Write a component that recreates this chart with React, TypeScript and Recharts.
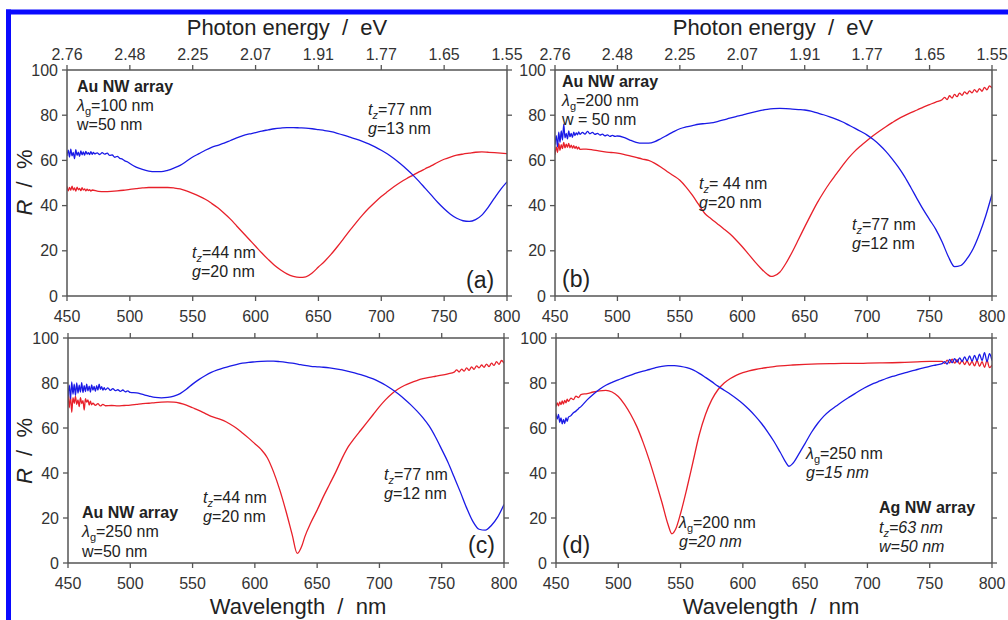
import React from 'react';
import { LineChart, Line, XAxis, YAxis } from 'recharts';

const FONT = '"Liberation Sans", Arial, Helvetica, sans-serif';
const RED = '#e8202a';
const BLUE = '#1a1ae6';
const AXIS = '#555555';

const wlTicks = [450, 500, 550, 600, 650, 700, 750, 800];
const evLabels = ['2.76', '2.48', '2.25', '2.07', '1.91', '1.77', '1.65', '1.55'];
const rTicks = [0, 20, 40, 60, 80, 100];

// Panel (a)
const aBlue: number[][] = [
  [450, 62], [451, 64.5], [452, 61.5], [453, 65], [454, 62], [455, 63.5], [456, 60.8], [457, 64.8], [458, 62.2], [459, 63.6],
  [460, 61.8], [461, 64.2], [462, 62.5], [463, 63.8], [464, 62.3], [465, 64], [466, 62.8], [467, 63.4], [468, 62.6], [469, 63.9],
  [470, 62.7], [471, 63.5], [472, 62.9], [474, 63.3], [476, 62.6], [478, 63.4], [480, 62.8], [482, 63.2], [484, 62.2], [486, 62.4],
  [488, 61.4], [490, 61.8], [492, 60.9], [494, 60.6], [496, 59.8], [498, 59.4], [500, 58.6],
  [505, 57], [510, 56], [515, 55.3], [520, 55], [525, 55], [530, 55.6], [535, 56.6], [540, 57.8], [545, 59.6], [550, 61.5],
  [555, 63], [560, 64.5], [565, 65.8], [570, 66.7], [575, 67.6], [580, 68.8], [585, 70], [590, 71], [595, 71.7], [600, 72.3],
  [605, 73], [610, 73.5], [615, 74], [620, 74.3], [625, 74.5], [630, 74.5], [635, 74.4], [640, 74.3], [645, 74], [650, 73.6],
  [655, 73.2], [660, 72.7], [665, 72], [670, 71.2], [675, 70.3], [680, 69.4], [685, 68.4], [690, 67.3], [695, 66], [700, 64.5],
  [705, 62.8], [710, 60.8], [715, 58.6], [720, 56.2], [725, 53.6], [730, 50.7], [735, 47.6], [740, 44.5], [745, 41.4], [750, 38.6],
  [755, 36.2], [760, 34.4], [765, 33.3], [770, 33], [775, 33.8], [780, 35.8], [785, 39.2], [790, 43.3], [795, 47.2], [800, 50.5],
];
const aRed: number[][] = [
  [450, 48.5], [451, 46.5], [452, 48], [453, 46.8], [454, 48.6], [455, 46.9], [456, 47.8], [457, 46.4], [458, 48.2], [459, 47],
  [460, 47.6], [461, 46.6], [462, 47.9], [463, 46.9], [464, 47.4], [465, 46.5], [466, 47.3], [467, 46.6], [468, 47.1], [469, 46.4],
  [470, 46.9], [475, 46.3], [480, 46.2], [485, 46.3], [490, 46.5], [495, 46.8], [500, 47.2], [505, 47.5], [510, 47.8], [515, 48],
  [520, 48], [525, 48], [530, 48], [535, 47.8], [540, 47.4], [545, 46.5], [550, 45.4], [555, 44.2], [560, 42.8], [565, 41],
  [570, 39], [575, 36.6], [580, 34], [585, 31], [590, 28], [595, 25], [600, 22], [605, 19], [610, 16.2], [615, 13.6],
  [620, 11.5], [625, 9.8], [630, 8.7], [635, 8.2], [640, 8.5], [645, 10.2], [650, 12.8], [655, 15.4], [660, 18.4], [665, 21.8],
  [670, 25.4], [675, 29], [680, 32.5], [685, 35.8], [690, 38.8], [695, 41.5], [700, 44], [705, 46.2], [710, 48.3], [715, 50.2],
  [720, 51.9], [725, 53.4], [730, 54.9], [735, 56.3], [740, 57.7], [745, 59.2], [750, 60.5], [755, 61.5], [760, 62.3], [765, 62.8],
  [770, 63.2], [775, 63.6], [780, 63.8], [785, 63.6], [790, 63.4], [795, 63.2], [800, 63],
];

// Panel (b)
const bBlue: number[][] = [
  [450, 67], [451, 71], [452, 66], [453, 72.5], [454, 68], [455, 73], [456, 69], [457, 76], [458, 70], [459, 72],
  [460, 69.5], [461, 73], [462, 70.5], [463, 72], [464, 70.2], [465, 72.5], [466, 71], [467, 72.2], [468, 71.3], [469, 72.6],
  [470, 71.5], [472, 72.4], [474, 71.6], [476, 72.8], [478, 71.8], [480, 72.4], [482, 71.5], [484, 72], [486, 71.2], [488, 71.6],
  [490, 70.9], [492, 71.3], [494, 70.6], [496, 71.1], [498, 70.6], [500, 70.8],
  [505, 70.2], [510, 69], [515, 68], [520, 67.6], [525, 67.6], [530, 68.3], [535, 69.7], [540, 71.2], [545, 72.7], [550, 74],
  [555, 74.8], [560, 75.4], [565, 76], [570, 76.3], [575, 76.6], [580, 77.2], [585, 77.9], [590, 78.7], [595, 79.4], [600, 80],
  [605, 80.8], [610, 81.5], [615, 82.1], [620, 82.6], [625, 82.9], [630, 83], [635, 82.9], [640, 82.7], [645, 82.5], [650, 82.3],
  [655, 81.8], [660, 81], [665, 80.2], [670, 79.3], [675, 78.3], [680, 77.1], [685, 75.7], [690, 74.3], [695, 72.8], [700, 71.2],
  [705, 69.2], [710, 66.8], [715, 64], [720, 60.7], [725, 57], [730, 52.8], [735, 48], [740, 43], [745, 38.2], [750, 33.8],
  [755, 29.5], [760, 24], [765, 17.5], [770, 13], [775, 13.5], [780, 16.5], [785, 21], [790, 27.5], [795, 35.5], [800, 45],
];
const bRed: number[][] = [
  [450, 62.5], [451, 66], [452, 63.5], [453, 67.5], [454, 64.5], [455, 67], [456, 65.2], [457, 68], [458, 65.5], [459, 67.2],
  [460, 65.8], [461, 67.5], [462, 65.6], [463, 66.8], [464, 65.4], [465, 66.5], [466, 65.3], [467, 66.2], [468, 65], [469, 65.9],
  [470, 64.9], [475, 65], [480, 64.7], [485, 64.2], [490, 63.8], [495, 63.5], [500, 63.2], [505, 62.7], [510, 62], [515, 61.3],
  [520, 60.6], [525, 60], [530, 58.7], [535, 57], [540, 55], [545, 53.2], [550, 51.2], [555, 48.2], [560, 44.6], [565, 40.5],
  [570, 36.5], [575, 34.2], [580, 32], [585, 29.8], [590, 27.5], [595, 24.8], [600, 21.8], [605, 18.5], [610, 15.2], [615, 12.2],
  [620, 9.6], [623, 8.7], [625, 8.8], [630, 10.5], [635, 14.5], [640, 19.5], [645, 25], [650, 30.6], [655, 36], [660, 41.2],
  [665, 45.8], [670, 50], [675, 53.8], [680, 57.5], [685, 61], [690, 64], [695, 66.5], [700, 68.8], [705, 71], [710, 73],
  [715, 74.9], [720, 76.7], [725, 78.4], [730, 79.8], [735, 81.1], [740, 82.3], [745, 83.6], [750, 84.7], [755, 85.8],
  [760, 86.8], [762, 87.9], [764, 86.9], [766, 88.6], [768, 87.6], [770, 89.2], [772, 88.2], [774, 89.8], [776, 88.8], [778, 90.3],
  [780, 89.4], [782, 90.8], [784, 89.9], [786, 91.3], [788, 90.2], [790, 91.8], [792, 90.6], [794, 92.3], [796, 91.2], [798, 93], [800, 92],
];

// Panel (c)
const cBlue: number[][] = [
  [450, 74], [451, 79], [452, 73], [453, 80.5], [454, 75], [455, 79.5], [456, 74.5], [457, 80], [458, 75.5], [459, 79],
  [460, 76], [461, 80.2], [462, 75.8], [463, 78.8], [464, 76.2], [465, 79.5], [466, 76.5], [467, 78.6], [468, 76], [469, 79.2],
  [470, 76.8], [471, 78.5], [472, 76.3], [473, 78.8], [474, 76.9], [475, 79.5], [476, 77.2], [477, 78.4], [478, 76.8], [479, 77.9],
  [480, 77], [482, 77.8], [484, 76.7], [486, 77.5], [488, 76.6], [490, 77], [492, 76.3], [494, 76.9], [496, 76.1], [498, 76.5], [500, 75.8],
  [505, 75.6], [510, 74.9], [515, 74.2], [520, 73.6], [525, 73.4], [530, 73.6], [535, 74.2], [540, 75.3], [545, 77.2], [550, 79.5],
  [555, 81.5], [560, 83.2], [565, 84.7], [570, 85.8], [575, 86.7], [580, 87.5], [585, 88.2], [590, 88.8], [595, 89.2], [600, 89.4],
  [605, 89.6], [610, 89.7], [615, 89.7], [620, 89.5], [625, 89.2], [630, 88.8], [635, 88.3], [640, 87.8], [645, 87.4], [650, 87.2],
  [655, 87], [660, 86.7], [665, 86.3], [670, 85.8], [675, 85.2], [680, 84.5], [685, 83.7], [690, 82.8], [695, 81.8], [700, 80.5],
  [705, 79], [710, 77.2], [715, 75.2], [720, 72.9], [725, 70.4], [730, 67.6], [735, 64.5], [740, 60.8], [745, 56], [750, 50.5],
  [755, 44.8], [760, 38.2], [765, 31.5], [770, 24.5], [775, 18.5], [780, 15], [785, 14.6], [790, 16.8], [795, 20.5], [800, 26],
];
const cRed: number[][] = [
  [450, 76], [451, 69], [452, 74.5], [453, 67], [454, 73.5], [455, 71], [456, 74], [457, 70.5], [458, 72.5], [459, 69.5],
  [460, 73.5], [461, 70.8], [462, 72.2], [463, 68], [464, 73], [465, 71.5], [466, 72.5], [467, 70.2], [468, 71.9], [469, 70.3],
  [470, 71], [472, 70.1], [474, 70.8], [476, 69.8], [478, 70.5], [480, 69.9],
  [485, 70], [490, 69.8], [495, 70], [500, 70.2], [505, 70.5], [510, 70.8], [515, 71], [520, 71.3], [525, 71.5], [530, 71.6],
  [535, 71.5], [540, 71], [545, 70.2], [550, 69], [555, 67.8], [560, 66.5], [565, 65.2], [570, 64.3], [575, 63.3], [580, 61.8],
  [585, 60], [590, 57.8], [595, 55.5], [600, 53], [605, 50.5], [610, 46.8], [615, 40.5], [620, 32.5], [625, 23], [630, 12.5],
  [634, 4.3], [638, 8], [640, 11.5], [645, 18], [650, 23.5], [655, 29.5], [660, 35], [665, 40.5], [670, 46.5], [675, 51.7],
  [680, 55.5], [685, 59], [690, 62.5], [695, 66], [700, 69.5], [705, 72.6], [710, 75.2], [715, 77.3], [720, 78.9], [725, 80.1],
  [730, 81.1], [735, 81.9], [740, 82.5], [745, 83], [750, 83.5], [755, 84.1],
  [760, 84.8], [762, 85.8], [764, 84.9], [766, 86.2], [768, 85.3], [770, 86.7], [772, 85.6], [774, 87.2], [776, 86.1], [778, 87.6],
  [780, 86.7], [782, 88], [784, 87], [786, 88.4], [788, 87.3], [790, 88.8], [792, 87.8], [794, 89.5], [796, 88.3], [798, 90], [800, 88.8],
];

// Panel (d)
const dBlue: number[][] = [
  [450, 66.5], [451, 64], [452, 66], [453, 62.5], [454, 64.5], [455, 61.8], [456, 63.8], [457, 62], [458, 64.5], [459, 63],
  [460, 64.8], [462, 65.5], [464, 66.8], [466, 67.5], [468, 68.6], [470, 69.5],
  [475, 72.5], [480, 75], [485, 77.2], [490, 79], [495, 80.3], [500, 81.4], [505, 82.5], [510, 83.5], [515, 84.5], [520, 85.3],
  [525, 86], [530, 86.8], [535, 87.4], [540, 87.7], [545, 87.7], [550, 87.4], [555, 86.8], [560, 85.8], [565, 84.3], [570, 82.5],
  [575, 80.6], [580, 78.6], [585, 76.8], [590, 75], [595, 73], [600, 70.8], [605, 68.2], [610, 65.3], [615, 62], [620, 58.2],
  [625, 54], [630, 49.2], [635, 44.3], [637, 43], [640, 44.2], [645, 48.5], [650, 53.2], [655, 58], [660, 62], [665, 65.3],
  [670, 67.8], [675, 69.8], [680, 71.8], [685, 73.6], [690, 75.3], [695, 77], [700, 78.5], [705, 79.8], [710, 80.9], [715, 82],
  [720, 82.9], [725, 83.7], [730, 84.5], [735, 85.3], [740, 86], [745, 86.7], [750, 87.4], [755, 88],
  [760, 88.6], [762, 89.5], [764, 88.4], [766, 90.5], [768, 89], [770, 90.8], [772, 89.3], [774, 91.2], [776, 89.6], [778, 91.6],
  [780, 89.8], [782, 92], [784, 89.7], [786, 92.3], [788, 89.9], [790, 92.8], [792, 90], [794, 93.5], [796, 89.5], [798, 93], [800, 90],
];
const dRed: number[][] = [
  [450, 69.5], [451, 71.2], [452, 69.8], [453, 71.6], [454, 70.4], [455, 72], [456, 70.6], [457, 72.3], [458, 71.2], [459, 72.8],
  [460, 71.8], [462, 73.3], [464, 72.6], [466, 74.2], [468, 73.5], [470, 74.8],
  [475, 75.3], [480, 76], [485, 76.5], [490, 76.7], [495, 76], [500, 74], [505, 70.5], [510, 66], [515, 60.5], [520, 53.5],
  [525, 45.5], [530, 36.5], [535, 27], [540, 17], [543, 13], [546, 15], [550, 22], [555, 33], [560, 45], [565, 57],
  [570, 66], [575, 72.5], [580, 77], [585, 80], [590, 82], [595, 83.5], [600, 84.6], [605, 85.4], [610, 86], [615, 86.5],
  [620, 86.9], [625, 87.3], [630, 87.6], [640, 88], [650, 88.3], [660, 88.5], [670, 88.6], [680, 88.7], [690, 88.7], [700, 88.8],
  [710, 88.9], [720, 89], [730, 89.2], [740, 89.4], [750, 89.6],
  [760, 89.6], [762, 88.7], [764, 90.2], [766, 88.9], [768, 90.6], [770, 88.8], [772, 90.4], [774, 88.4], [776, 90], [778, 88.2],
  [780, 89.8], [782, 87.9], [784, 89.6], [786, 87.6], [788, 90], [790, 87.4], [792, 89.5], [794, 87], [796, 90], [798, 86.8], [800, 88],
];

const toData = (pairs: number[][]) => pairs.map(([x, r]) => ({ x, r }));

const tickStyle = { fill: '#333', fontSize: 16, fontFamily: FONT };
const axisLineStyle = { stroke: AXIS, strokeWidth: 1.5 };
const tickLineStyle = { stroke: AXIS, strokeWidth: 1.3 };

type PanelProps = {
  left: number; top: number; width: number; height: number;
  yw: number; rm: number; bh: number;
  red: number[][]; blue: number[][]; topLabels: boolean;
};

function Panel({ left, top, width, height, yw, rm, bh, red, blue, topLabels }: PanelProps) {
  return (
    <div style={{ position: 'absolute', left, top, width, height }}>
      <LineChart width={width} height={height} margin={{ top: 0, right: rm, bottom: 0, left: 0 }}>
        <XAxis xAxisId="b" dataKey="x" type="number" domain={[450, 800]} ticks={wlTicks}
          orientation="bottom" height={bh} tickSize={5} tickMargin={10}
          axisLine={axisLineStyle} tickLine={tickLineStyle} tick={tickStyle} allowDataOverflow />
        <XAxis xAxisId="t" dataKey="x" type="number" domain={[450, 800]} ticks={wlTicks}
          orientation="top" height={30} tickSize={5} tickMargin={5}
          tickFormatter={(v: number) => (topLabels ? evLabels[wlTicks.indexOf(v)] ?? '' : '')}
          axisLine={axisLineStyle} tickLine={tickLineStyle} tick={tickStyle} allowDataOverflow />
        <YAxis yAxisId="l" type="number" domain={[0, 100]} ticks={rTicks} width={yw}
          tickSize={5} tickMargin={4} axisLine={axisLineStyle} tickLine={tickLineStyle} tick={tickStyle} allowDataOverflow />
        <YAxis yAxisId="r" orientation="right" type="number" domain={[0, 100]} ticks={rTicks} width={8}
          tickSize={5} tickFormatter={() => ''} axisLine={axisLineStyle} tickLine={tickLineStyle} tick={tickStyle} allowDataOverflow />
        <Line xAxisId="b" yAxisId="l" data={toData(red)} dataKey="r" type="monotone" stroke={RED}
          strokeWidth={1.3} dot={false} isAnimationActive={false} />
        <Line xAxisId="b" yAxisId="l" data={toData(blue)} dataKey="r" type="monotone" stroke={BLUE}
          strokeWidth={1.3} dot={false} isAnimationActive={false} />
      </LineChart>
    </div>
  );
}

const TXT = '#222';
const SUB = { fontSize: 11 };

function Lg({ x, y, val, italic }: { x: number; y: number; val: string; italic?: boolean }) {
  return (
    <text x={x} y={y} fontSize={16} fill={TXT} fontFamily={FONT}>
      <tspan fontStyle="italic">λ</tspan>
      <tspan dy={4} {...SUB}>g</tspan>
      <tspan dy={-4} fontStyle={italic ? 'italic' : 'normal'}>{val}</tspan>
    </text>
  );
}
function Tz({ x, y, val, italic }: { x: number; y: number; val: string; italic?: boolean }) {
  return (
    <text x={x} y={y} fontSize={16} fill={TXT} fontFamily={FONT}>
      <tspan fontStyle="italic">t</tspan>
      <tspan dy={4} {...SUB} fontStyle="italic">z</tspan>
      <tspan dy={-4} fontStyle={italic ? 'italic' : 'normal'}>{val}</tspan>
    </text>
  );
}
function G({ x, y, val, italic }: { x: number; y: number; val: string; italic?: boolean }) {
  return (
    <text x={x} y={y} fontSize={16} fill={TXT} fontFamily={FONT}>
      <tspan fontStyle="italic">g</tspan>
      <tspan fontStyle={italic ? 'italic' : 'normal'}>{val}</tspan>
    </text>
  );
}
function T({ x, y, children, bold, italic, size, anchor }: any) {
  return (
    <text x={x} y={y} fontSize={size ?? 16} fill={TXT} fontFamily={FONT}
      fontWeight={bold ? 'bold' : 'normal'} fontStyle={italic ? 'italic' : 'normal'} textAnchor={anchor ?? 'start'}>
      {children}
    </text>
  );
}

function Overlay() {
  const sp = '\u00a0\u00a0';
  return (
    <svg width={1008} height={620} style={{ position: 'absolute', left: 0, top: 0, pointerEvents: 'none' }}>
      <rect x={6} y={9.5} width={1002} height={5} fill="#0a0aff" />
      <rect x={6} y={9.5} width={5} height={611} fill="#0a0aff" />
      {/* axis titles */}
      <T x={287} y={35} size={22} anchor="middle">{`Photon energy${sp}/${sp}eV`}</T>
      <T x={773} y={35} size={22} anchor="middle">{`Photon energy${sp}/${sp}eV`}</T>
      <T x={298} y={614} size={22} anchor="middle">{`Wavelength${sp}/${sp}nm`}</T>
      <T x={771} y={614} size={22} anchor="middle">{`Wavelength${sp}/${sp}nm`}</T>
      <text transform="translate(31.5,182.5) rotate(-90)" textAnchor="middle" fontSize={22} fill={TXT} fontFamily={FONT}>
        <tspan fontStyle="italic">R</tspan>{`${sp}/${sp}%`}
      </text>
      <text transform="translate(31.5,451) rotate(-90)" textAnchor="middle" fontSize={22} fill={TXT} fontFamily={FONT}>
        <tspan fontStyle="italic">R</tspan>{`${sp}/${sp}%`}
      </text>
      {/* panel a */}
      <T x={77} y={92} bold>Au NW array</T>
      <Lg x={77} y={111} val="=100 nm" />
      <T x={77} y={130}>w=50 nm</T>
      <Tz x={368} y={115} val="=77 nm" />
      <G x={368} y={134} val="=13 nm" />
      <Tz x={192} y={258} val="=44 nm" />
      <G x={192} y={277} val="=20 nm" />
      <T x={466} y={288} size={23}>(a)</T>
      {/* panel b */}
      <T x={562} y={87} bold>Au NW array</T>
      <Lg x={562} y={106} val="=200 nm" />
      <T x={562} y={125}>w = 50 nm</T>
      <Tz x={699} y={189} val="= 44 nm" />
      <G x={699} y={208} val="=20 nm" />
      <Tz x={852} y={230} val="=77 nm" />
      <G x={852} y={249} val="=12 nm" />
      <T x={562} y={287} size={23}>(b)</T>
      {/* panel c */}
      <T x={82} y={518} bold>Au NW array</T>
      <Lg x={82} y={537} val="=250 nm" />
      <T x={82} y={557}>w=50 nm</T>
      <Tz x={203} y={503} val="=44 nm" />
      <G x={203} y={522} val="=20 nm" />
      <Tz x={384} y={480} val="=77 nm" />
      <G x={384} y={499} val="=12 nm" />
      <T x={468} y={553} size={23}>(c)</T>
      {/* panel d */}
      <Lg x={806} y={459} val="=250 nm" />
      <G x={806} y={478} val="=15 nm" italic />
      <Lg x={679} y={528} val="=200 nm" />
      <G x={679} y={547} val="=20 nm" italic />
      <T x={879} y={513} bold>Ag NW array</T>
      <Tz x={879} y={533} val="=63 nm" italic />
      <T x={879} y={552} italic>w=50 nm</T>
      <T x={562} y={553} size={23}>(d)</T>
    </svg>
  );
}

export default function App() {
  return (
    <div style={{ position: 'absolute', left: 0, top: 0, width: 1008, height: 620, background: '#fff', overflow: 'hidden', fontFamily: FONT }}>
      <Panel left={20} top={40} width={515} height={290} yw={47} rm={20} bh={34} red={aRed} blue={aBlue} topLabels />
      <Panel left={508} top={40} width={500} height={290} yw={47} rm={8} bh={34} red={bRed} blue={bBlue} topLabels />
      <Panel left={20} top={308} width={515} height={290} yw={48} rm={23} bh={35} red={cRed} blue={cBlue} topLabels={false} />
      <Panel left={508} top={308} width={500} height={290} yw={48} rm={8} bh={35} red={dRed} blue={dBlue} topLabels={false} />
      <Overlay />
    </div>
  );
}
